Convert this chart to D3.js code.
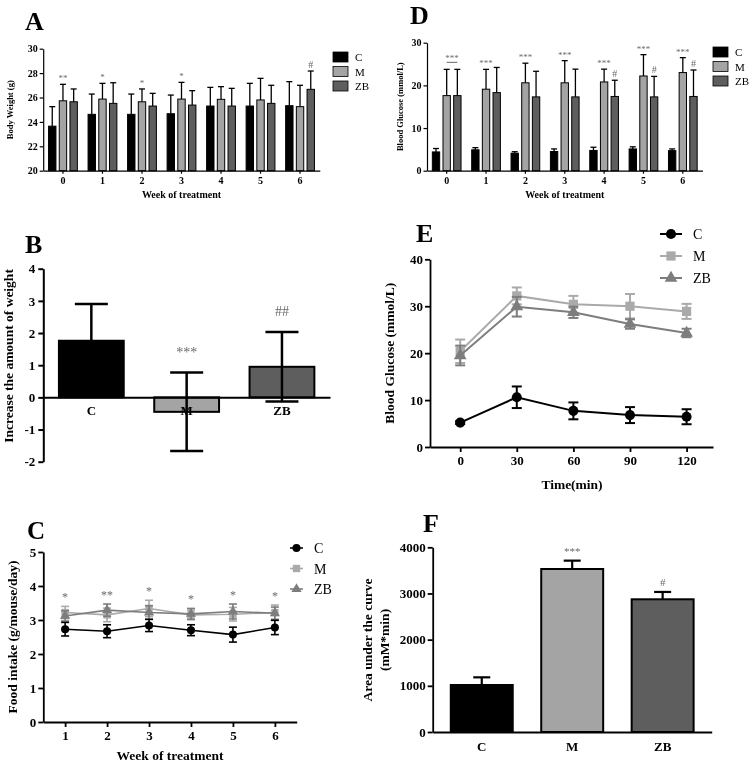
<!DOCTYPE html>
<html><head><meta charset="utf-8">
<script src="https://cdn.jsdelivr.net/npm/d3@7"></script>
<style>body{margin:0;background:#fff} svg{display:block;will-change:transform}</style>
</head><body><svg id="c" width="751" height="764"></svg>
<script>
// ---------- DATA ----------
const groups = ["C", "M", "ZB"];
// Panel A: body weight (g)
const weeksA = [0, 1, 2, 3, 4, 5, 6];
const bwMean = {
  C:  [23.65, 24.62, 24.62, 24.67, 25.3, 25.3, 25.33],
  M:  [25.73, 25.87, 25.65, 25.87, 25.85, 25.8, 25.25],
  ZB: [25.65, 25.52, 25.3, 25.38, 25.3, 25.52, 26.67]
};
const bwSD = {
  C:  [1.6, 1.66, 1.66, 1.53, 1.53, 1.86, 1.97],
  M:  [1.35, 1.29, 1.05, 1.37, 1.04, 1.77, 1.75],
  ZB: [1.05, 1.69, 1.04, 1.18, 1.45, 1.48, 1.5]
};
const bwAnnoM  = ["**", "*", "*", "*", "", "", ""];
const bwAnnoZB = ["", "", "", "", "", "", "#"];
const bwTicks = [20, 22, 24, 26, 28, 30];

// Panel D: blood glucose weekly (mmol/L)
const bgMean = {
  C:  [4.4, 4.9, 4.1, 4.5, 4.75, 5.1, 4.7],
  M:  [17.6, 19.1, 20.6, 20.6, 20.8, 22.2, 23.0],
  ZB: [17.6, 18.3, 17.3, 17.3, 17.4, 17.3, 17.4]
};
const bgSD = {
  C:  [0.8, 0.5, 0.35, 0.6, 0.75, 0.5, 0.4],
  M:  [6.15, 4.65, 4.6, 5.2, 3.0, 5.0, 3.5],
  ZB: [6.15, 5.9, 6.0, 6.5, 3.8, 4.8, 6.2]
};
const bgAnnoM  = ["***", "***", "***", "***", "***", "***", "***"];
const bgAnnoZB = ["", "", "", "", "#", "#", "#"];
const bgTicks = [0, 10, 20, 30];

// Panel B: weight increase
const incMean = [1.76, -0.45, 0.95];
const incSD = [1.14, 1.22, 1.08];
const incAnno = ["", "***", "##"];
const incTicks = [-2, -1, 0, 1, 2, 3, 4];

// Panel C: food intake (g/mouse/day)
const weeksC = [1, 2, 3, 4, 5, 6];
const foodMean = {
  C:  [2.73, 2.67, 2.84, 2.70, 2.57, 2.78],
  M:  [3.22, 3.15, 3.34, 3.15, 3.17, 3.22],
  ZB: [3.12, 3.29, 3.22, 3.18, 3.25, 3.20]
};
const foodSD = {
  C:  [0.2, 0.19, 0.18, 0.16, 0.22, 0.21],
  M:  [0.18, 0.2, 0.24, 0.14, 0.2, 0.22],
  ZB: [0.15, 0.18, 0.2, 0.16, 0.22, 0.18]
};
const foodAnno = ["*", "**", "*", "*", "*", "*"];
const foodTicks = [0, 1, 2, 3, 4, 5];

// Panel E: OGTT
const times = [0, 30, 60, 90, 120];
const ogttMean = {
  C:  [5.2, 10.6, 7.7, 6.8, 6.45],
  M:  [20.4, 32.2, 30.4, 30.0, 28.9],
  ZB: [19.5, 29.9, 28.7, 26.2, 24.3]
};
const ogttSD = {
  C:  [0.3, 2.3, 1.8, 1.7, 1.6],
  M:  [2.5, 1.8, 1.8, 2.6, 1.6],
  ZB: [2.1, 2.1, 1.2, 1.0, 0.9]
};
const ogttTicks = [0, 10, 20, 30, 40];

// Panel F: AUC
const aucMean = [1018, 3530, 2874];
const aucSD = [166, 181, 159];
const aucAnno = ["", "***", "#"];
const aucTicks = [0, 1000, 2000, 3000, 4000];

// ---------- STYLE ----------
const FONT = '"Liberation Serif","Times New Roman",serif';
const barFill = {C: "#000000", M: "#a4a4a4", ZB: "#5e5e5e"};
const lineCol = {C: "#000000", M: "#aaaaaa", ZB: "#7d7d7d"};
const annoCol = "#6a6a6a";
const intFmt = d => String(d);

const svg = d3.select("#c");

function styleAxis(g, fs, sw) {
  g.attr("font-family", FONT).attr("font-size", fs).attr("font-weight", "bold");
  g.selectAll("path.domain").attr("stroke", "#000").attr("stroke-width", sw);
  g.selectAll(".tick line").attr("stroke", "#000").attr("stroke-width", sw);
  g.selectAll(".tick text").attr("fill", "#000");
}
function txt(t, x, y, fs, opts = {}) {
  return svg.append("text").attr("x", x).attr("y", y)
    .attr("font-family", FONT).attr("font-size", fs)
    .attr("font-weight", opts.weight || "bold")
    .attr("fill", opts.fill || "#000")
    .attr("text-anchor", opts.anchor || "start").text(t);
}
function yTitle(t, x, y, fs) {
  svg.append("text").attr("transform", `translate(${x},${y}) rotate(-90)`)
    .attr("text-anchor", "middle").attr("font-family", FONT)
    .attr("font-size", fs).attr("font-weight", "bold").text(t);
}
function errBar(g, cx, yA, yB, capW, col, sw, both, yLow) {
  g.append("line").attr("x1", cx).attr("x2", cx).attr("y1", yA).attr("y2", yB)
    .attr("stroke", col).attr("stroke-width", sw);
  g.append("line").attr("x1", cx - capW / 2).attr("x2", cx + capW / 2).attr("y1", yB).attr("y2", yB)
    .attr("stroke", col).attr("stroke-width", sw);
  if (both) {
    g.append("line").attr("x1", cx).attr("x2", cx).attr("y1", yA).attr("y2", yLow)
      .attr("stroke", col).attr("stroke-width", sw);
    g.append("line").attr("x1", cx - capW / 2).attr("x2", cx + capW / 2).attr("y1", yLow).attr("y2", yLow)
      .attr("stroke", col).attr("stroke-width", sw);
  }
}

// ---------- GROUPED BAR PANELS (A, D) ----------
function groupedBars(o) {
  const x = d3.scaleBand().domain(o.weeks).range(o.xr);
  const sub = d3.scaleBand().domain(groups).range([0, x.bandwidth()]).paddingInner(0.31).paddingOuter(0.5);
  const y = d3.scaleLinear().domain(o.ydom).range(o.yr);
  const g = svg.append("g");
  groups.forEach(k => {
    o.weeks.forEach((w, i) => {
      const m = o.mean[k][i], sd = o.sd[k][i];
      const bx = x(w) + sub(k);
      const cx = bx + sub.bandwidth() / 2;
      errBar(g, cx, y(m), y(m + sd), 6, "#000", 1.3);
      g.append("rect").attr("x", bx).attr("y", y(m)).attr("width", sub.bandwidth())
        .attr("height", y(o.ydom[0]) - y(m)).attr("fill", barFill[k])
        .attr("stroke", "#000").attr("stroke-width", 1);
    });
  });
  o.weeks.forEach((w, i) => {
    const mM = o.mean.M[i] + o.sd.M[i];
    const cxM = x(w) + sub("M") + sub.bandwidth() / 2;
    const cxZ = x(w) + sub("ZB") + sub.bandwidth() / 2;
    if (o.annoM[i]) {
      if (o.bracket && i === 0) {
        const top = Math.min(y(mM), y(o.mean.ZB[i] + o.sd.ZB[i])) - 7;
        g.append("line").attr("x1", cxM).attr("x2", cxZ).attr("y1", top).attr("y2", top)
          .attr("stroke", annoCol).attr("stroke-width", 1);
        txt(o.annoM[i], (cxM + cxZ) / 2, top - 1, 9, {fill: annoCol, weight: "normal", anchor: "middle"});
      } else {
        txt(o.annoM[i], cxM, y(mM) - 3, 9, {fill: annoCol, weight: "normal", anchor: "middle"});
      }
    }
    if (o.annoZB[i]) {
      txt(o.annoZB[i], cxZ, y(o.mean.ZB[i] + o.sd.ZB[i]) - 3, 10, {fill: annoCol, weight: "normal", anchor: "middle"});
    }
  });
  const gy = svg.append("g").attr("transform", `translate(${o.xr[0]},0)`)
    .call(d3.axisLeft(y).tickValues(o.yticks).tickFormat(intFmt).tickSize(3.5).tickSizeOuter(0).tickPadding(2));
  styleAxis(gy, 10, 1.2);
  const gx = svg.append("g").attr("transform", `translate(0,${o.yr[0]})`)
    .call(d3.axisBottom(x).tickSize(3).tickSizeOuter(0).tickPadding(3));
  styleAxis(gx, 10, 1.2);
  txt("Week of treatment", (o.xr[0] + o.xr[1]) / 2, o.yr[0] + 27, 10, {anchor: "middle"});
  yTitle(o.ytitle, o.ytx, (o.yr[0] + o.yr[1]) / 2, 8.5);
  groups.forEach((k, i) => {
    const cy = o.legY + i * 14.5;
    svg.append("rect").attr("x", o.legX).attr("y", cy - 5).attr("width", 15).attr("height", 10)
      .attr("fill", barFill[k]).attr("stroke", "#000").attr("stroke-width", 0.8);
    txt(k, o.legX + 22, cy + 4, 11, {weight: "normal"});
  });
}

groupedBars({weeks: weeksA, mean: bwMean, sd: bwSD, annoM: bwAnnoM, annoZB: bwAnnoZB,
  xr: [43.2, 319.8], yr: [170.7, 48.7], ydom: [20, 30], yticks: bwTicks,
  ytitle: "Body Weight (g)", ytx: 13, legX: 333, legY: 57});
groupedBars({weeks: weeksA, mean: bgMean, sd: bgSD, annoM: bgAnnoM, annoZB: bgAnnoZB, bracket: true,
  xr: [427, 702.5], yr: [170.7, 42.7], ydom: [0, 30], yticks: bgTicks,
  ytitle: "Blood Glucose (mmol/L)", ytx: 403, legX: 713, legY: 52});

// ---------- PANEL B ----------
(function () {
  const x = d3.scaleBand().domain(groups).range([43.3, 330]).paddingInner(0.32).paddingOuter(0.164);
  const y = d3.scaleLinear().domain([-2, 4]).range([461.7, 268.7]);
  const g = svg.append("g");
  groups.forEach((k, i) => {
    const m = incMean[i], sd = incSD[i];
    const cx = x(k) + x.bandwidth() / 2;
    g.append("rect").attr("x", x(k)).attr("y", Math.min(y(m), y(0))).attr("width", x.bandwidth())
      .attr("height", Math.abs(y(m) - y(0))).attr("fill", barFill[k]).attr("stroke", "#000").attr("stroke-width", 2);
    errBar(g, cx, y(m), y(m + sd), 33, "#000", 2.5, true, y(m - sd));
    if (incAnno[i]) txt(incAnno[i], cx, y(m + sd) - 16, 14, {fill: annoCol, weight: "normal", anchor: "middle"});
  });
  const gy = svg.append("g").attr("transform", "translate(43.3,0)")
    .call(d3.axisLeft(y).tickValues(incTicks).tickFormat(intFmt).tickSize(5).tickSizeOuter(0).tickPadding(3));
  styleAxis(gy, 13, 2);
  const gx = svg.append("g").attr("transform", `translate(0,${y(0)})`)
    .call(d3.axisBottom(x).tickSize(0).tickSizeOuter(0).tickPadding(8));
  styleAxis(gx, 13, 2);
  yTitle("Increase the amount of weight", 13, 356, 13.5);
})();

// ---------- LINE PANELS (C, E) ----------
function markerPath(k, s) {
  if (k === "C") return d3.symbol(d3.symbolCircle, s * s * 0.8)();
  if (k === "M") return d3.symbol(d3.symbolSquare, s * s * 0.85)();
  return d3.symbol(d3.symbolTriangle, s * s * 0.7)();
}
function linePanel(o) {
  const x = d3.scaleLinear().domain(o.xdom).range(o.xr);
  const y = d3.scaleLinear().domain(o.ydom).range(o.yr);
  const g = svg.append("g");
  ["M", "ZB", "C"].forEach(k => {
    const pts = o.xs.map((t, i) => [x(t), y(o.mean[k][i]), o.sd[k][i], o.mean[k][i]]);
    g.append("path").attr("d", d3.line()(pts.map(p => [p[0], p[1]])))
      .attr("fill", "none").attr("stroke", lineCol[k]).attr("stroke-width", o.lw);
    pts.forEach(p => {
      errBar(g, p[0], p[1], y(p[3] + p[2]), o.cap, lineCol[k], o.lw, true, y(p[3] - p[2]));
      g.append("path").attr("transform", `translate(${p[0]},${p[1]})`)
        .attr("d", markerPath(k, o.ms)).attr("fill", lineCol[k]);
    });
  });
  if (o.anno) {
    o.xs.forEach((t, i) => {
      const top = Math.max(o.mean.M[i] + o.sd.M[i], o.mean.ZB[i] + o.sd.ZB[i]);
      txt(o.anno[i], x(t), y(top) - 5, 12, {fill: annoCol, weight: "normal", anchor: "middle"});
    });
  }
  const gy = svg.append("g").attr("transform", `translate(${o.xr[0]},0)`)
    .call(d3.axisLeft(y).tickValues(o.yticks).tickFormat(intFmt).tickSize(5).tickSizeOuter(0).tickPadding(2));
  styleAxis(gy, 13, 1.8);
  const gx = svg.append("g").attr("transform", `translate(0,${o.yr[0]})`)
    .call(d3.axisBottom(x).tickValues(o.xs).tickFormat(intFmt).tickSize(5).tickSizeOuter(0).tickPadding(4));
  styleAxis(gx, 13, 1.8);
  txt(o.xtitle, o.xtitleX, o.xtitleY, 13.5, {anchor: "middle"});
  yTitle(o.ytitle, o.ytx, (o.yr[0] + o.yr[1]) / 2, 13.5);
  groups.forEach((k, i) => {
    const cy = o.legY + i * o.legDy;
    svg.append("line").attr("x1", o.legX).attr("x2", o.legX + o.legW).attr("y1", cy).attr("y2", cy)
      .attr("stroke", lineCol[k]).attr("stroke-width", o.lw);
    svg.append("path").attr("transform", `translate(${o.legX + o.legW / 2},${cy})`)
      .attr("d", markerPath(k, o.ms)).attr("fill", lineCol[k]);
    txt(k, o.legX + o.legW + 11, cy + 5, 14, {weight: "normal"});
  });
}

linePanel({xs: weeksC, mean: foodMean, sd: foodSD, anno: foodAnno,
  xdom: [0.48, 6.52], xr: [43.3, 296.7], ydom: [0, 5], yr: [722, 552], yticks: foodTicks,
  lw: 1.6, cap: 8, ms: 8, xtitle: "Week of treatment", xtitleX: 170, xtitleY: 760,
  ytitle: "Food intake (g/mouse/day)", ytx: 17, legX: 290, legW: 13, legY: 548, legDy: 20.5});
linePanel({xs: times, mean: ogttMean, sd: ogttSD,
  xdom: [-16, 134], xr: [430, 713], ydom: [0, 40], yr: [447, 259.3], yticks: ogttTicks,
  lw: 2, cap: 10, ms: 10, xtitle: "Time(min)", xtitleX: 572, xtitleY: 489,
  ytitle: "Blood Glucose (mmol/L)", ytx: 394, legX: 660, legW: 22, legY: 234, legDy: 22});

// ---------- PANEL F ----------
(function () {
  const x = d3.scaleBand().domain(groups).range([432.7, 711.7]).paddingInner(0.315).paddingOuter(0.2);
  const y = d3.scaleLinear().domain([0, 4000]).range([732, 547.3]);
  const g = svg.append("g");
  groups.forEach((k, i) => {
    const m = aucMean[i], sd = aucSD[i];
    const cx = x(k) + x.bandwidth() / 2;
    errBar(g, cx, y(m), y(m + sd), 17, "#000", 2.2);
    g.append("rect").attr("x", x(k)).attr("y", y(m)).attr("width", x.bandwidth())
      .attr("height", y(0) - y(m)).attr("fill", barFill[k]).attr("stroke", "#000").attr("stroke-width", 2);
    if (aucAnno[i]) txt(aucAnno[i], cx, y(m + sd) - 6, 11, {fill: annoCol, weight: "normal", anchor: "middle"});
  });
  const gy = svg.append("g").attr("transform", "translate(432.7,0)")
    .call(d3.axisLeft(y).tickValues(aucTicks).tickFormat(intFmt).tickSize(5).tickSizeOuter(0).tickPadding(2));
  styleAxis(gy, 13, 1.8);
  const gx = svg.append("g").attr("transform", `translate(0,${y(0)})`)
    .call(d3.axisBottom(x).tickSize(0).tickSizeOuter(0).tickPadding(10));
  styleAxis(gx, 13, 1.8);
  yTitle("Area under the curve", 372, 640, 13.5);
  yTitle("(mM*min)", 389, 640, 13.5);
})();

// ---------- PANEL LETTERS ----------
txt("A", 25, 30, 26);
txt("D", 410, 24, 26);
txt("B", 25, 253, 26);
txt("E", 416, 242, 26);
txt("C", 27, 539, 25);
txt("F", 423, 532, 26);
</script></body></html>
